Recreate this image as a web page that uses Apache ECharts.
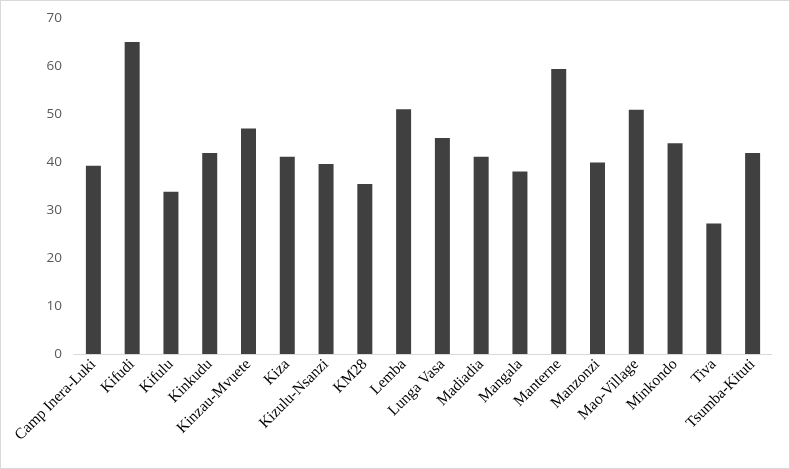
<!DOCTYPE html>
<html>
<head>
<meta charset="utf-8">
<script src="https://cdn.jsdelivr.net/npm/echarts@6/dist/echarts.min.js"></script>
<style>
  html, body { margin: 0; padding: 0; background: #fff; }
  #main { width: 790px; height: 469px; box-sizing: border-box; border: 1px solid #d9d9d9; }
</style>
</head>
<body>
<div id="main"></div>
<script>
const categories = ['Camp Inera-Luki', 'Kifudi', 'Kifulu', 'Kinkudu', 'Kinzau-Mvuete', 'Kiza', 'Kizulu-Nsanzi', 'KM28', 'Lemba', 'Lunga Vasa', 'Madiadia', 'Mangala', 'Manterne', 'Manzonzi', 'Mao-Village', 'Minkondo', 'Tiva', 'Tsumba-Kituti'];
const values = [39.2, 65.0, 33.8, 41.9, 47.0, 41.1, 39.6, 35.4, 51.0, 45.0, 41.1, 38.0, 59.4, 39.9, 50.9, 43.9, 27.2, 41.9];
const yTicks = { min: 0, max: 70, interval: 10 };

const chart = echarts.init(document.getElementById('main'));
chart.setOption({
  animation: false,
  grid: { left: 73, right: 17, top: 17, bottom: 114 },
  xAxis: {
    type: 'category',
    data: categories,
    axisLine: { lineStyle: { color: '#d9d9d9', width: 1 } },
    axisTick: { show: false },
    axisLabel: {
      interval: 0,
      rotate: 45,
      margin: 8,
      color: '#000',
      fontFamily: 'Liberation Serif',
      fontSize: 15.5
    }
  },
  yAxis: {
    type: 'value',
    min: yTicks.min,
    max: yTicks.max,
    interval: yTicks.interval,
    axisLine: { show: false },
    axisTick: { show: false },
    splitLine: { show: false },
    axisLabel: {
      margin: 12,
      color: '#595959',
      fontFamily: 'Open Sans',
      fontSize: 13.5
    }
  },
  series: [{
    type: 'bar',
    data: values,
    barWidth: 15,
    itemStyle: { color: '#404040' }
  }]
});
</script>
</body>
</html>
